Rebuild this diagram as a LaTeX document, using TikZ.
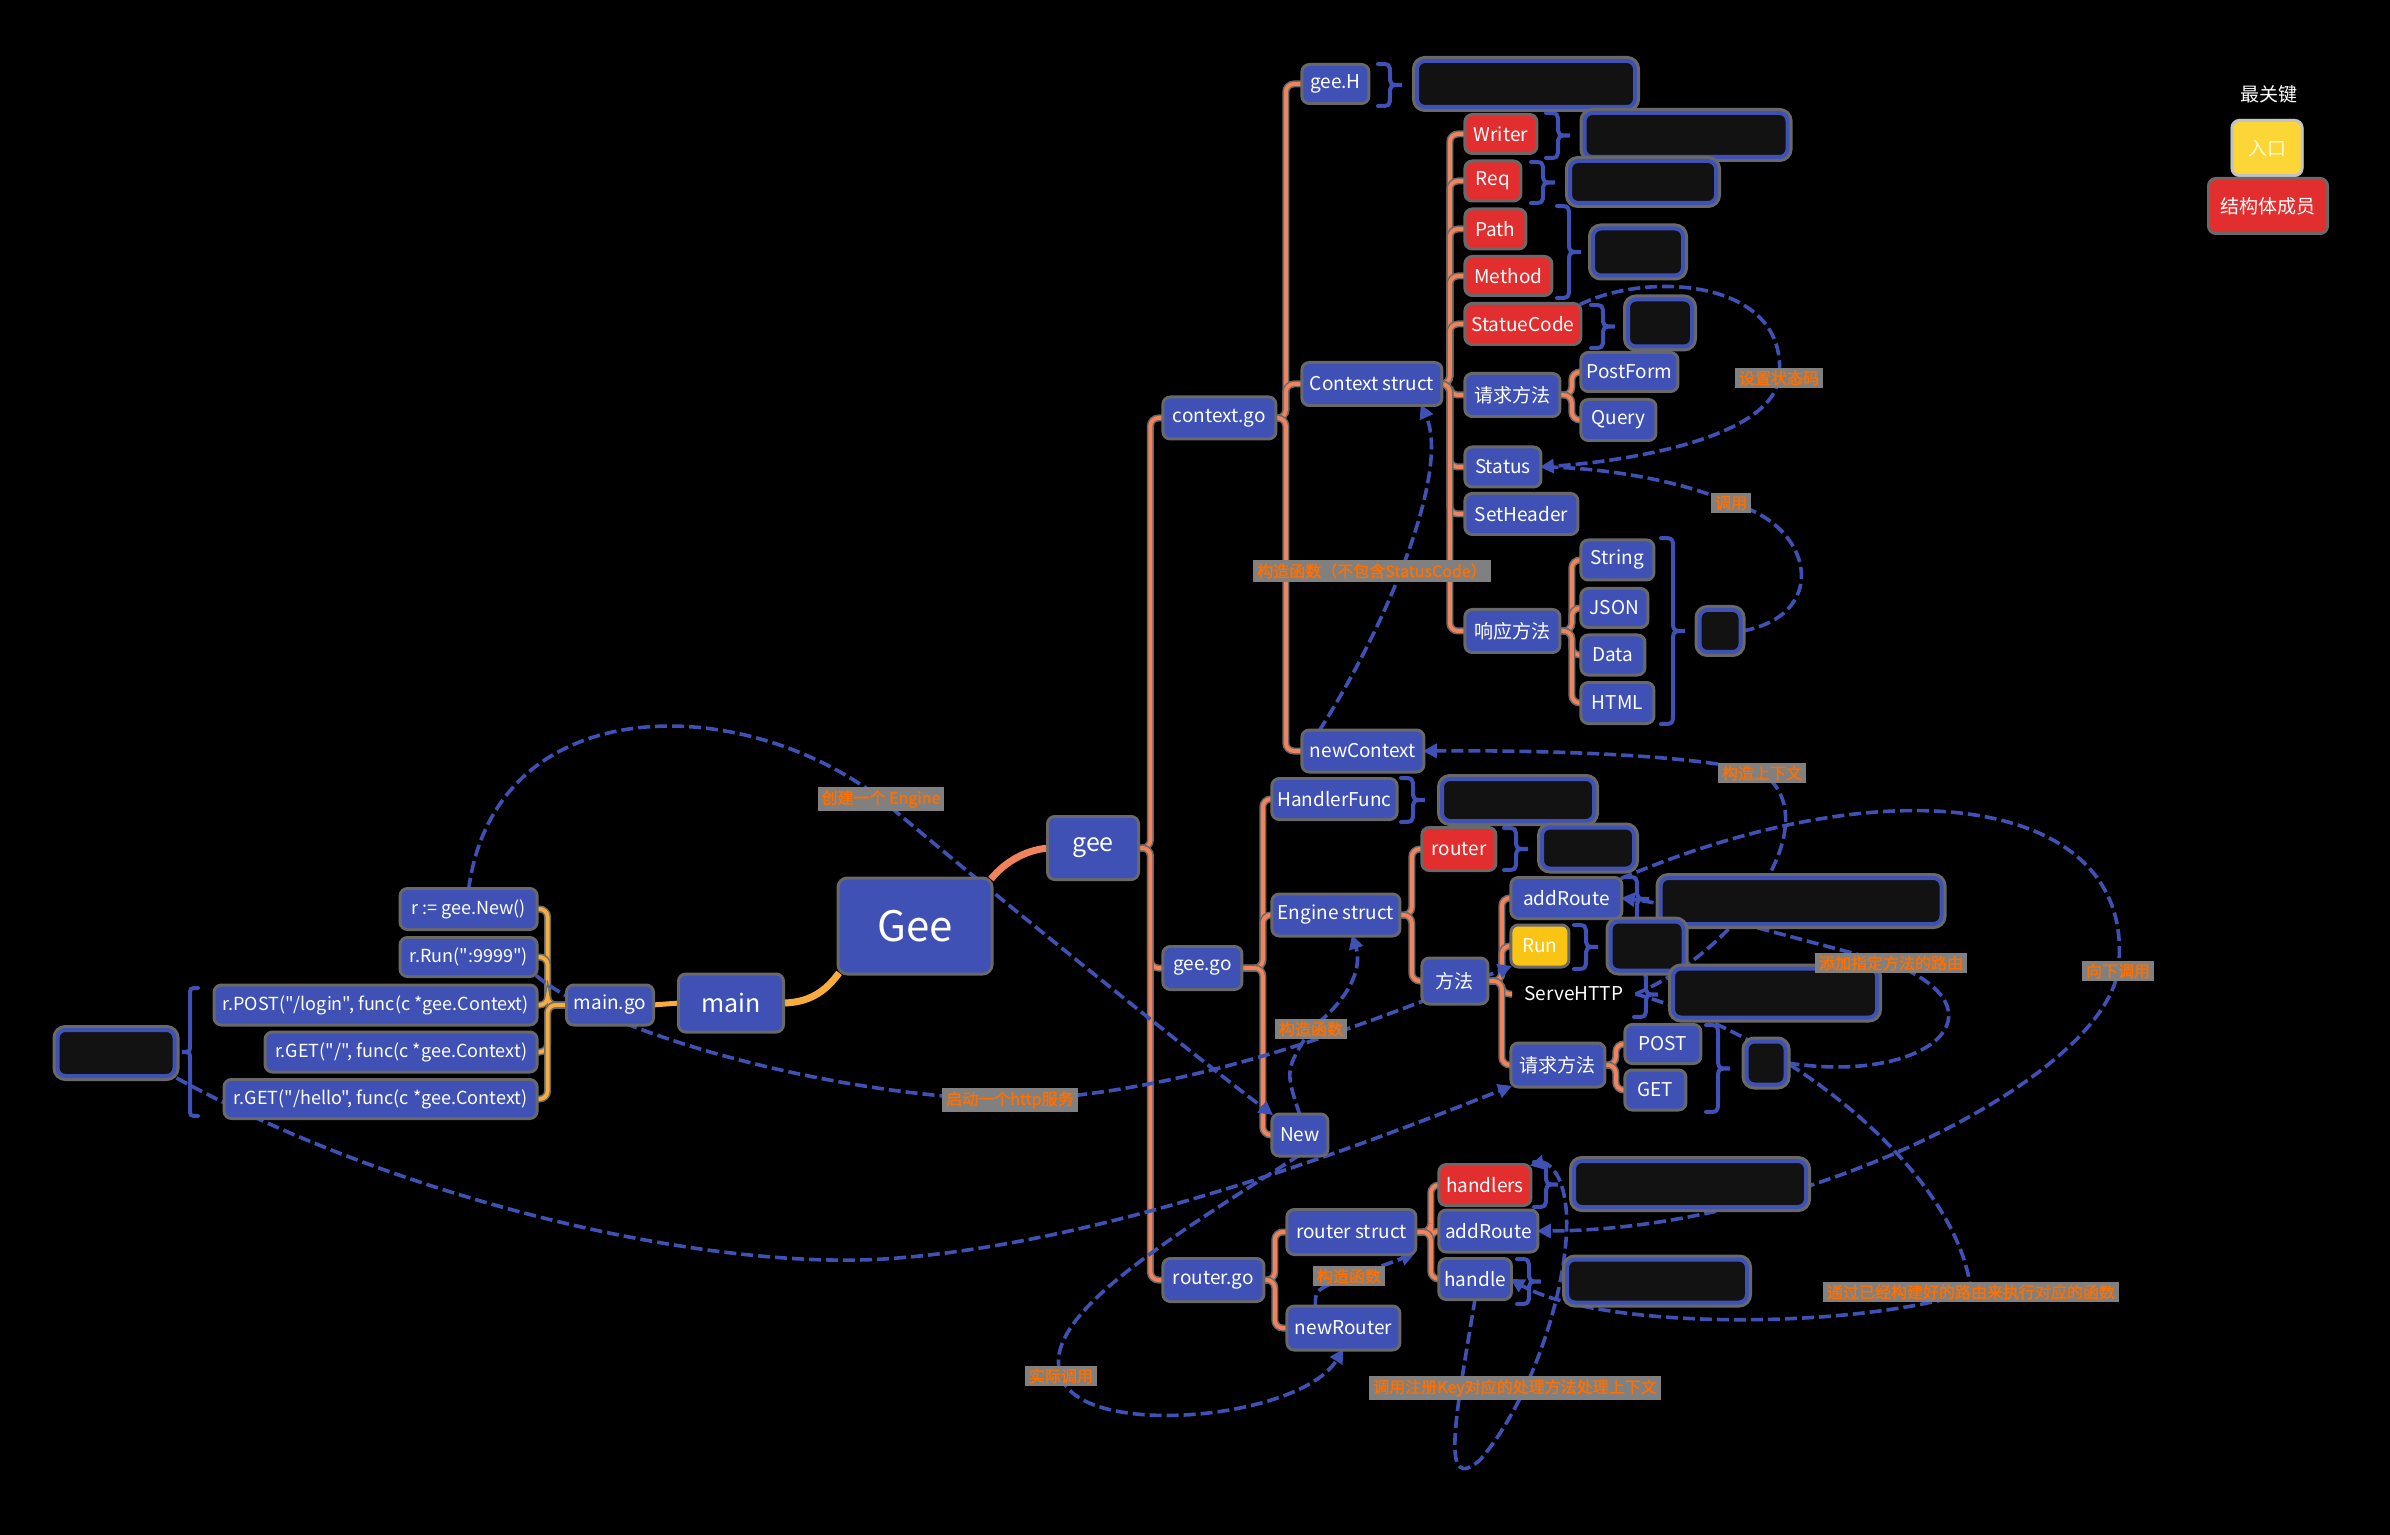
\documentclass[tikz,border=0pt]{standalone}
\usepackage{fontspec}
\setmainfont{Noto Sans CJK SC}
\newfontfamily\codefont{Noto Sans CJK SC}
\newfontfamily\labfont{Noto Sans CJK SC}[FakeBold=1.6]
\usetikzlibrary{arrows.meta,calc}
\pgfdeclarelayer{back}
\pgfdeclarelayer{bg}
\pgfsetlayers{back,bg,main}
\definecolor{nblue}{RGB}{63,81,181}
\definecolor{nred}{RGB}{226,46,46}
\definecolor{nyel}{RGB}{250,196,20}
\definecolor{legyel}{RGB}{252,214,54}
\definecolor{halo}{RGB}{105,105,105}
\definecolor{hidfill}{RGB}{18,18,18}
\definecolor{labbg}{RGB}{128,128,128}
\definecolor{labfg}{RGB}{255,112,0}
\definecolor{treeC}{RGB}{240,130,92}
\definecolor{ltreeC}{RGB}{246,172,62}
\newcommand\mybrace[4]{%
  \pgfmathsetmacro\brQ{min(abs(#4)*0.5,(#3-#2)/4)}%
  \pgfmathsetmacro\brM{(#2+#3)/2}%
  \pgfmathsetmacro\brX{#1+#4*0.5}%
  \pgfmathsetmacro\brT{#1+#4}%
  \draw[brc] (#1,#2) .. controls (\brX,#2) .. (\brX,#2+\brQ) -- (\brX,\brM-\brQ) .. controls (\brX,\brM) .. (\brT,\brM) .. controls (\brX,\brM) .. (\brX,\brM+\brQ) -- (\brX,#3-\brQ) .. controls (\brX,#3) .. (#1,#3);%
}
\tikzset{
  sz/.style 2 args={minimum width=#1, minimum height=#2},
  bx/.style={fill=nblue, rounded corners=3pt, text=white, font=\fontsize{9.5}{11}\selectfont, inner xsep=2pt, inner ysep=1pt, align=center, preaction={draw=halo,line width=3pt}},
  rd/.style={bx, fill=nred},
  yl/.style={bx, fill=nyel},
  cd/.style={bx, anchor=east, font=\codefont\fontsize{9}{10.5}\selectfont},
  hid/.style={fill=hidfill, draw=nblue, line width=2pt, rounded corners=4pt, inner sep=0pt, preaction={draw=halo,line width=5pt}},
  lab/.style={fill=labbg, text=labfg, font=\labfont\fontsize{8}{9}\selectfont, inner xsep=2pt, inner ysep=1.5pt},
  tree/.style={draw=treeC, line width=2pt, rounded corners=4pt, preaction={draw=halo,line width=3.5pt}},
  ltree/.style={tree, draw=ltreeC},
  relna/.style={draw=nblue, line width=1.8pt, dash pattern=on 6pt off 2.5pt},
  rel/.style={relna, -{Triangle[length=7pt,width=7pt]}},
  brc/.style={draw=nblue, line width=2pt, line cap=round}
}
\begin{document}
\begin{tikzpicture}[x=0.5pt,y=-0.5pt]
\begin{pgfonlayer}{back}
\fill[black] (0,0) rectangle (2390,1535);
\end{pgfonlayer}
\useasboundingbox (0,0) rectangle (2390,1535);

% ---------- left group ----------
\node[hid, sz={58.5pt}{23pt}] (hL) at (116,1053) {};
\node[cd, sz={67pt}{19pt}] (rnew) at (536,909) {r := gee.New()};
\node[cd, sz={67pt}{18pt}] (rrun) at (536,957) {r.Run(":9999")};
\node[cd, sz={160pt}{18.5pt}] (rpost) at (536,1005) {r.POST("/login", func(c *gee.Context)};
\node[cd, sz={134.5pt}{18.5pt}] (rget1) at (536,1052) {r.GET("/", func(c *gee.Context)};
\node[cd, sz={155pt}{18pt}] (rget2) at (536,1099) {r.GET("/hello", func(c *gee.Context)};
\node[bx, sz={42pt}{18.5pt}] (maingo) at (610,1005) {main.go};
\node[bx, sz={51pt}{27.5pt}, font=\fontsize{12.5}{14}\selectfont] (mainn) at (731,1003) {main};
\node[bx, sz={75.5pt}{46.5pt}, font=\fontsize{21}{24}\selectfont, rounded corners=4pt] (Gee) at (915,926) {Gee};
\node[bx, sz={44pt}{30pt}, font=\fontsize{12.5}{14}\selectfont] (gee) at (1093,848) {gee};

% ---------- files ----------
\node[bx, anchor=west, sz={55pt}{19.5pt}] (ctxgo) at (1164,418) {context.go};
\node[bx, anchor=west, sz={38pt}{20pt}] (geego) at (1164,968) {gee.go};
\node[bx, anchor=west, sz={49pt}{20pt}] (rtgo) at (1164,1280) {router.go};

% ---------- context.go ----------
\node[bx, anchor=west, sz={32pt}{18pt}] (geeH) at (1303,84) {gee.H};
\node[bx, anchor=west, sz={68.5pt}{20pt}] (ctxs) at (1303,384) {Context struct};
\node[bx, anchor=west, sz={59.5pt}{19.5pt}] (newctx) at (1303,751) {newContext};
\node[rd, anchor=west, sz={34.5pt}{18pt}] (writer) at (1466,134) {Writer};
\node[rd, anchor=west, sz={26.5pt}{18.5pt}] (req) at (1466,181) {Req};
\node[rd, anchor=west, sz={29pt}{18.5pt}] (path) at (1466,229) {Path};
\node[rd, anchor=west, sz={42pt}{18pt}] (method) at (1466,276) {Method};
\node[rd, anchor=west, sz={56.5pt}{19pt}] (statue) at (1466,324) {StatueCode};
\node[bx, anchor=west, sz={46pt}{20pt}] (reqm) at (1466,395) {请求方法};
\node[bx, anchor=west, sz={36.5pt}{18.5pt}] (status) at (1466,467) {Status};
\node[bx, anchor=west, sz={55pt}{19pt}] (sethdr) at (1466,514) {SetHeader};
\node[bx, anchor=west, sz={46pt}{20pt}] (resm) at (1466,631) {响应方法};
\node[bx, anchor=west, sz={47pt}{18pt}] (postform) at (1582,372) {PostForm};
\node[bx, anchor=west, sz={36pt}{19pt}] (query) at (1582,420) {Query};
\node[bx, anchor=west, sz={35pt}{18.5pt}] (string) at (1582,560) {String};
\node[bx, anchor=west, sz={32pt}{18pt}] (json) at (1582,608) {JSON};
\node[bx, anchor=west, sz={30.5pt}{18.5pt}] (data) at (1582,655) {Data};
\node[bx, anchor=west, sz={35pt}{19pt}] (html) at (1582,703) {HTML};

% ---------- gee.go ----------
\node[bx, anchor=west, sz={58.5pt}{19pt}] (handlerf) at (1273,799) {HandlerFunc};
\node[bx, anchor=west, sz={62.5pt}{19.5pt}] (engine) at (1273,915) {Engine struct};
\node[bx, anchor=west, sz={26.5pt}{19.5pt}] (newn) at (1273,1135) {New};
\node[rd, anchor=west, sz={35.5pt}{20pt}] (router) at (1423,849) {router};
\node[bx, anchor=west, sz={31.5pt}{21.5pt}] (fangfa) at (1423,981) {方法};
\node[bx, anchor=west, sz={54pt}{19pt}] (addr) at (1512,898) {addRoute};
\node[yl, anchor=west, sz={27.5pt}{19.5pt}] (run) at (1512,946) {Run};
\node[anchor=west, text=white, font=\fontsize{9.5}{11}\selectfont, inner xsep=6pt] (serve) at (1512,994) {ServeHTTP};
\node[bx, anchor=west, sz={45.5pt}{20.5pt}] (reqm2) at (1512,1065) {请求方法};
\node[bx, anchor=west, sz={36.5pt}{18pt}] (post) at (1626,1044) {POST};
\node[bx, anchor=west, sz={29pt}{18.5pt}] (get) at (1626,1090) {GET};

% ---------- router.go ----------
\node[bx, anchor=west, sz={63pt}{21pt}] (rstruct) at (1288,1232) {router struct};
\node[bx, anchor=west, sz={55pt}{20.5pt}] (newrouter) at (1288,1328) {newRouter};
\node[rd, anchor=west, sz={44.5pt}{19pt}] (handlers) at (1440,1185) {handlers};
\node[bx, anchor=west, sz={48pt}{19.5pt}] (addr2) at (1440,1231) {addRoute};
\node[bx, anchor=west, sz={34.5pt}{19pt}] (handle) at (1440,1279) {handle};

% ---------- hidden (blurred) notes ----------
\node[hid, sz={109pt}{23pt}] (hGeeH) at (1526,84) {};
\node[hid, sz={101.5pt}{22pt}] (hWriter) at (1686,135) {};
\node[hid, sz={73pt}{21pt}] (hReq) at (1643,182) {};
\node[hid, sz={45pt}{23.5pt}] (hPM) at (1638,252) {};
\node[hid, sz={32pt}{23.5pt}] (hSC) at (1660,323) {};
\node[hid, sz={20.5pt}{21pt}] (hResp) at (1720,631) {};
\node[hid, sz={76pt}{21pt}] (hHF) at (1518,800) {};
\node[hid, sz={46pt}{20.5pt}] (hRouter) at (1588,848) {};
\node[hid, sz={140.5pt}{23pt}] (hAddr) at (1801,901) {};
\node[hid, sz={36.5pt}{24.5pt}] (hRun) at (1647,946) {};
\node[hid, sz={102pt}{24.5pt}] (hServe) at (1775,993) {};
\node[hid, sz={19.5pt}{21.5pt}] (hPG) at (1766,1063) {};
\node[hid, sz={116pt}{23pt}] (hHandlers) at (1690,1184) {};
\node[hid, sz={90pt}{21.5pt}] (hHandle) at (1657,1281) {};

% ---------- relation labels ----------
\node[lab] (lab1) at (881,799) {创建一个 Engine};
\node[lab] (lab2) at (1372,571) {构造函数（不包含StatusCode）};
\node[lab] (lab3) at (1779,378) {设置状态码};
\node[lab] (lab4) at (1731,503) {调用};
\node[lab] (lab5) at (1762,773) {构造上下文};
\node[lab] (lab6) at (1311,1029) {构造函数};
\node[lab] (lab7) at (1010,1100) {启动一个http服务};
\node[lab] (lab8) at (1891,963) {添加指定方法的路由};
\node[lab] (lab9) at (2118,971) {向下调用};
\node[lab] (lab10) at (1349,1276) {构造函数};
\node[lab] (lab11) at (1061,1376) {实际调用};
\node[lab] (lab12) at (1515,1388) {调用注册Key对应的处理方法处理上下文};
\node[lab] (lab13) at (1971,1292) {通过已经构建好的路由来执行对应的函数};

% ---------- legend ----------
\node[text=white, font=\fontsize{9.5}{11}\selectfont] (legt) at (2269,94) {最关键};
\node[bx, fill=legyel, text=white!80!yellow, preaction={draw=halo!40!white,line width=3pt}, sz={33.5pt}{26pt}] (legy) at (2267,148) {入口};
\node[rd, sz={58pt}{26pt}] (legr) at (2268,206) {结构体成员};

\begin{pgfonlayer}{bg}
% ---------- tree connectors ----------
\draw[ltree] (maingo.west) -- ++(-20,0) |- (rnew.east);
\draw[ltree] (maingo.west) -- ++(-20,0) |- (rrun.east);
\draw[ltree] (maingo.west) -- ++(-20,0) |- (rpost.east);
\draw[ltree] (maingo.west) -- ++(-20,0) |- (rget1.east);
\draw[ltree] (maingo.west) -- ++(-20,0) |- (rget2.east);
\draw[draw=ltreeC, line width=2.5pt] (maingo.east) -- (mainn.west);
\draw[draw=ltreeC, line width=3.5pt] (mainn.east) .. controls (815,1003) and (830,985) .. (Gee.south west);
\draw[draw=treeC, line width=3.5pt] (Gee.north east) .. controls (1005,862) and (1025,850) .. (gee.west);
\foreach \c in {ctxgo,geego,rtgo} \draw[tree] (gee.east) -- ++(13,0) |- (\c.west);
\foreach \c in {geeH,ctxs,newctx} \draw[tree] (ctxgo.east) -- ++(11,0) |- (\c.west);
\foreach \c in {writer,req,path,method,statue,reqm,status,sethdr,resm} \draw[tree] (ctxs.east) -- ++(9,0) |- (\c.west);
\foreach \c in {postform,query} \draw[tree] (reqm.east) -- ++(13,0) |- (\c.west);
\foreach \c in {string,json,data,html} \draw[tree] (resm.east) -- ++(13,0) |- (\c.west);
\foreach \c in {handlerf,engine,newn} \draw[tree] (geego.east) -- ++(22,0) |- (\c.west);
\foreach \c in {router,fangfa} \draw[tree] (engine.east) -- ++(13,0) |- (\c.west);
\foreach \c in {addr,run,serve,reqm2} \draw[tree] (fangfa.east) -- ++(15,0) |- (\c.west);
\foreach \c in {post,get} \draw[tree] (reqm2.east) -- ++(12,0) |- (\c.west);
\foreach \c in {rstruct,newrouter} \draw[tree] (rtgo.east) -- ++(12,0) |- (\c.west);
\foreach \c in {handlers,addr2,handle} \draw[tree] (rstruct.east) -- ++(16,0) |- (\c.west);

% ---------- braces ----------
\mybrace{1378}{64}{106}{24}
\mybrace{1546}{113}{158}{24}
\mybrace{1531}{162}{203}{24}
\mybrace{1557}{206}{298}{24}
\mybrace{1591}{305}{348}{24}
\mybrace{1661}{538}{724}{24}
\mybrace{1401}{778}{822}{24}
\mybrace{1504}{828}{870}{24}
\mybrace{1625}{877}{921}{24}
\mybrace{1574}{925}{969}{24}
\mybrace{1634}{972}{1017}{24}
\mybrace{1706}{1025}{1112}{24}
\mybrace{1534}{1162}{1207}{24}
\mybrace{1517}{1259}{1304}{24}
\mybrace{198}{988}{1116}{(-16)}

% ---------- relations ----------
\draw[rel] (rnew.north) .. controls (495,690) and (740,690) .. (lab1.center) .. controls (1000,900) and (1200,1060) .. (newn.north west);
\draw[rel] (rrun.south east) .. controls (600,1030) and (820,1095) .. (lab7.center) .. controls (1200,1095) and (1400,1010) .. (run.south west);
\draw[rel] (hL.south east) .. controls (400,1200) and (700,1270) .. (884,1259) .. controls (1100,1245) and (1350,1150) .. (reqm2.south west);
\draw[rel] ([xshift=8pt]newctx.north west) .. controls (1390,620) and (1450,470) .. ([xshift=-10pt]ctxs.south east);
\draw[rel] (statue.north east) .. controls (1650,270) and (1790,280) .. (lab3.center) .. controls (1770,440) and (1620,462) .. (status.east);
\draw[relna] (hResp.east) .. controls (1830,615) and (1815,525) .. (lab4.center) .. controls (1680,480) and (1600,467) .. (status.east);
\draw[rel] (serve.east) .. controls (1740,950) and (1830,820) .. (lab5.center) .. controls (1700,755) and (1550,750) .. (newctx.east);
\draw[rel] (hPG.east) .. controls (1930,1085) and (2010,1010) .. (lab8.center) .. controls (1800,940) and (1680,905) .. (addr.east);
\draw[rel] (addr.north east) .. controls (1900,760) and (2140,800) .. (lab9.center) .. controls (2100,1080) and (1800,1230) .. (addr2.east);
\draw[rel] (serve.east) .. controls (1800,1040) and (1960,1180) .. (lab13.center) .. controls (1850,1330) and (1600,1330) .. (handle.east);
\draw[rel] (handle.south) .. controls (1455,1420) and (1440,1495) .. (1480,1460) .. controls (1540,1390) and (1575,1260) .. (1565,1200) .. controls (1560,1168) and (1545,1162) .. (handlers.north east);
\draw[rel] (newn.south) .. controls (1150,1250) and (1040,1320) .. (lab11.center) .. controls (1080,1440) and (1300,1420) .. (newrouter.south);
\draw[rel] ([xshift=-14pt]newrouter.north) .. controls (1315,1290) .. (lab10.center) .. controls (1385,1265) .. (rstruct.south east);
\draw[rel] (newn.north) .. controls (1285,1070) .. (lab6.center) .. controls (1360,990) and (1360,960) .. ([xshift=8pt]engine.south);
\end{pgfonlayer}
\end{tikzpicture}
\end{document}
